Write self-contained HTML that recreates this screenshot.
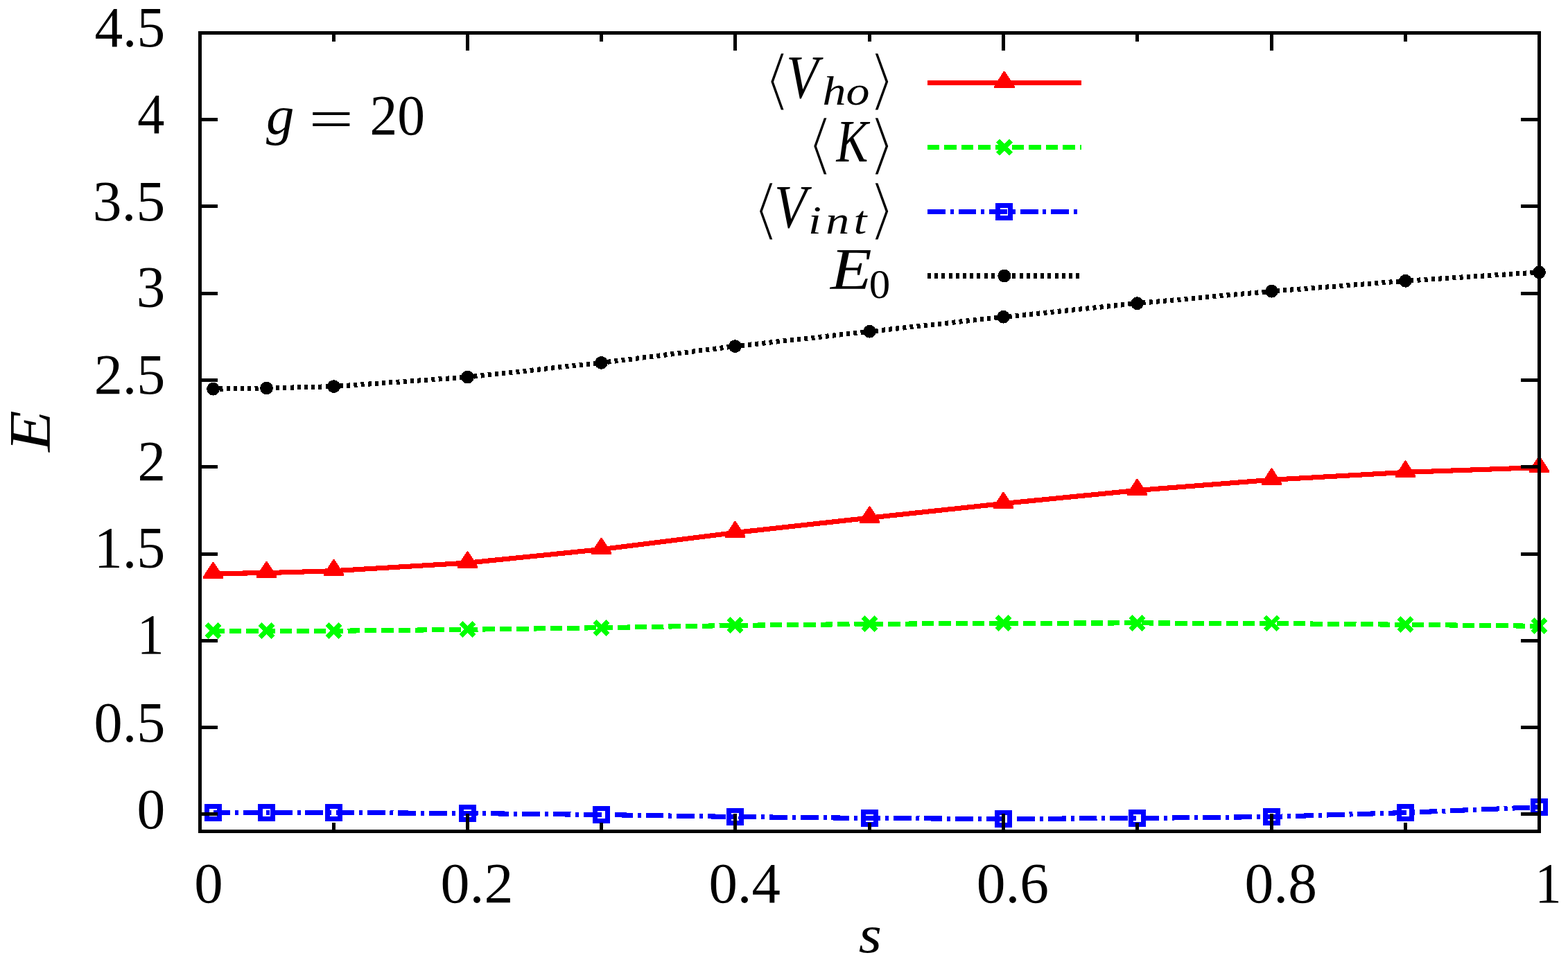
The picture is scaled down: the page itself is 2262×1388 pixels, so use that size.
<!DOCTYPE html>
<html lang="en"><head><meta charset="utf-8"><title>E versus s, g = 20</title>
<style>
html,body{margin:0;padding:0;background:#fff;}
body{width:2262px;height:1388px;overflow:hidden;}
svg{display:block;}
text{font-family:"Liberation Serif","DejaVu Serif",serif;fill:#000;}
.it{font-style:italic;}
.br{font-family:"Liberation Serif","DejaVu Sans","DejaVu Serif",serif;stroke:#fff;stroke-width:4px;stroke-linejoin:miter;}
</style></head><body>
<svg width="2262" height="1388" viewBox="0 0 2262 1388">
<rect width="2262" height="1388" fill="#fff"/>
<g id="series" shape-rendering="crispEdges" fill="none" stroke-linejoin="round">
<polyline points="307.5,827.6 384.5,826.6 481.5,823.7 674.5,812.1 867.5,792.6 1060.5,768.5 1254.5,747.1 1447.5,726.5 1640.5,707.5 1834.5,692.3 2027.5,681.4 2220.5,674.5" stroke="#f00" stroke-width="7.1"/>
<polyline points="307.5,910.3 384.5,910.3 481.5,910.3 674.5,908.3 867.5,905.7 1060.5,902.4 1254.5,900.4 1447.5,899.2 1640.5,898.9 1834.5,899.5 2027.5,901.3 2220.5,903.3" stroke="#0f0" stroke-width="7.1" stroke-dasharray="17.4 6.967" stroke-dashoffset="0.9"/>
<polyline points="307.5,1172.5 384.5,1172.5 481.5,1172.5 674.5,1173.5 867.5,1175.5 1060.5,1178.5 1254.5,1180.5 1447.5,1181.5 1640.5,1180.5 1834.5,1178.5 2027.5,1172.5 2220.5,1164.5" stroke="#00f" stroke-width="7.1" stroke-dasharray="25.85 6.9 5 6.9" stroke-dashoffset="1"/>
<polyline points="307.5,561.2 384.5,560.0 481.5,557.6 674.5,544.1 867.5,523.4 1060.5,499.6 1254.5,478.3 1447.5,457.3 1640.5,437.7 1834.5,420.2 2027.5,405.3 2220.5,392.8" stroke="#000" stroke-width="7.1" stroke-dasharray="5 5.21" stroke-dashoffset="1.2"/>
</g>
<g id="markers" shape-rendering="crispEdges">
<polygon points="292.7,835.0 292.7,832.4 306.8,810.6 308.2,810.6 322.3,832.4 322.3,835.0" fill="#f00"/>
<polygon points="369.7,834.0 369.7,831.4 383.8,809.6 385.2,809.6 399.3,831.4 399.3,834.0" fill="#f00"/>
<polygon points="466.7,831.1 466.7,828.5 480.8,806.7 482.2,806.7 496.3,828.5 496.3,831.1" fill="#f00"/>
<polygon points="659.7,819.5 659.7,816.9 673.8,795.1 675.2,795.1 689.3,816.9 689.3,819.5" fill="#f00"/>
<polygon points="852.7,800.0 852.7,797.4 866.8,775.6 868.2,775.6 882.3,797.4 882.3,800.0" fill="#f00"/>
<polygon points="1045.7,775.9 1045.7,773.3 1059.8,751.5 1061.2,751.5 1075.3,773.3 1075.3,775.9" fill="#f00"/>
<polygon points="1239.7,754.5 1239.7,751.9 1253.8,730.1 1255.2,730.1 1269.3,751.9 1269.3,754.5" fill="#f00"/>
<polygon points="1432.7,733.9 1432.7,731.3 1446.8,709.5 1448.2,709.5 1462.3,731.3 1462.3,733.9" fill="#f00"/>
<polygon points="1625.7,714.9 1625.7,712.3 1639.8,690.5 1641.2,690.5 1655.3,712.3 1655.3,714.9" fill="#f00"/>
<polygon points="1819.7,699.7 1819.7,697.1 1833.8,675.3 1835.2,675.3 1849.3,697.1 1849.3,699.7" fill="#f00"/>
<polygon points="2012.7,688.8 2012.7,686.2 2026.8,664.4 2028.2,664.4 2042.3,686.2 2042.3,688.8" fill="#f00"/>
<polygon points="2205.7,681.9 2205.7,679.3 2219.8,657.5 2221.2,657.5 2235.3,679.3 2235.3,681.9" fill="#f00"/>
<path d="M298.0,900.8L317.0,919.8M298.0,919.8L317.0,900.8" stroke="#0f0" stroke-width="7" fill="none"/>
<path d="M375.0,900.8L394.0,919.8M375.0,919.8L394.0,900.8" stroke="#0f0" stroke-width="7" fill="none"/>
<path d="M472.0,900.8L491.0,919.8M472.0,919.8L491.0,900.8" stroke="#0f0" stroke-width="7" fill="none"/>
<path d="M665.0,898.8L684.0,917.8M665.0,917.8L684.0,898.8" stroke="#0f0" stroke-width="7" fill="none"/>
<path d="M858.0,896.2L877.0,915.2M858.0,915.2L877.0,896.2" stroke="#0f0" stroke-width="7" fill="none"/>
<path d="M1051.0,892.9L1070.0,911.9M1051.0,911.9L1070.0,892.9" stroke="#0f0" stroke-width="7" fill="none"/>
<path d="M1245.0,890.9L1264.0,909.9M1245.0,909.9L1264.0,890.9" stroke="#0f0" stroke-width="7" fill="none"/>
<path d="M1438.0,889.7L1457.0,908.7M1438.0,908.7L1457.0,889.7" stroke="#0f0" stroke-width="7" fill="none"/>
<path d="M1631.0,889.4L1650.0,908.4M1631.0,908.4L1650.0,889.4" stroke="#0f0" stroke-width="7" fill="none"/>
<path d="M1825.0,890.0L1844.0,909.0M1825.0,909.0L1844.0,890.0" stroke="#0f0" stroke-width="7" fill="none"/>
<path d="M2018.0,891.8L2037.0,910.8M2018.0,910.8L2037.0,891.8" stroke="#0f0" stroke-width="7" fill="none"/>
<path d="M2211.0,893.8L2230.0,912.8M2211.0,912.8L2230.0,893.8" stroke="#0f0" stroke-width="7" fill="none"/>
<rect x="298.5" y="1163.5" width="18" height="18" fill="none" stroke="#00f" stroke-width="7"/>
<rect x="375.5" y="1163.5" width="18" height="18" fill="none" stroke="#00f" stroke-width="7"/>
<rect x="472.5" y="1163.5" width="18" height="18" fill="none" stroke="#00f" stroke-width="7"/>
<rect x="665.5" y="1164.5" width="18" height="18" fill="none" stroke="#00f" stroke-width="7"/>
<rect x="858.5" y="1166.5" width="18" height="18" fill="none" stroke="#00f" stroke-width="7"/>
<rect x="1051.5" y="1169.5" width="18" height="18" fill="none" stroke="#00f" stroke-width="7"/>
<rect x="1245.5" y="1171.5" width="18" height="18" fill="none" stroke="#00f" stroke-width="7"/>
<rect x="1438.5" y="1172.5" width="18" height="18" fill="none" stroke="#00f" stroke-width="7"/>
<rect x="1631.5" y="1171.5" width="18" height="18" fill="none" stroke="#00f" stroke-width="7"/>
<rect x="1825.5" y="1169.5" width="18" height="18" fill="none" stroke="#00f" stroke-width="7"/>
<rect x="2018.5" y="1163.5" width="18" height="18" fill="none" stroke="#00f" stroke-width="7"/>
<rect x="2211.5" y="1155.5" width="18" height="18" fill="none" stroke="#00f" stroke-width="7"/>
<circle cx="307.5" cy="561.2" r="9.4" fill="#000"/>
<circle cx="384.5" cy="560.0" r="9.4" fill="#000"/>
<circle cx="481.5" cy="557.6" r="9.4" fill="#000"/>
<circle cx="674.5" cy="544.1" r="9.4" fill="#000"/>
<circle cx="867.5" cy="523.4" r="9.4" fill="#000"/>
<circle cx="1060.5" cy="499.6" r="9.4" fill="#000"/>
<circle cx="1254.5" cy="478.3" r="9.4" fill="#000"/>
<circle cx="1447.5" cy="457.3" r="9.4" fill="#000"/>
<circle cx="1640.5" cy="437.7" r="9.4" fill="#000"/>
<circle cx="1834.5" cy="420.2" r="9.4" fill="#000"/>
<circle cx="2027.5" cy="405.3" r="9.4" fill="#000"/>
<circle cx="2220.5" cy="392.8" r="9.4" fill="#000"/>
</g>
<g id="legend-samples" shape-rendering="crispEdges" fill="none">
<line x1="1337.9" y1="119.5" x2="1560.1" y2="119.5" stroke="#f00" stroke-width="7.1"/>
<line x1="1337.9" y1="212.4" x2="1560.1" y2="212.4" stroke="#0f0" stroke-width="7.1" stroke-dasharray="17.4 7"/>
<line x1="1337.9" y1="305.2" x2="1560.1" y2="305.2" stroke="#00f" stroke-width="7.1" stroke-dasharray="25.8 6.9 5 6.9"/>
<line x1="1337.9" y1="398.0" x2="1560.1" y2="398.0" stroke="#000" stroke-width="7.1" stroke-dasharray="5 5.2"/>
<polygon points="1434.0,126.9 1434.0,124.3 1448.1,102.5 1449.5,102.5 1463.6,124.3 1463.6,126.9" fill="#f00"/>
<path d="M1439.3,202.9L1458.3,221.9M1439.3,221.9L1458.3,202.9" stroke="#0f0" stroke-width="7" fill="none"/>
<rect x="1439.8" y="296.2" width="18" height="18" fill="none" stroke="#00f" stroke-width="7"/>
<circle cx="1448.8" cy="398.0" r="9.4" fill="#000"/>
</g>
<g id="axes" shape-rendering="crispEdges" stroke="#000" stroke-width="4.9" fill="none" stroke-linecap="butt">
<path d="M288.5,1174.5h25.7M2220.5,1174.5h-26.5M288.5,1049.5h25.7M2220.5,1049.5h-26.5M288.5,924.5h25.7M2220.5,924.5h-26.5M288.5,799.5h25.7M2220.5,799.5h-26.5M288.5,673.5h25.7M2220.5,673.5h-26.5M288.5,548.5h25.7M2220.5,548.5h-26.5M288.5,423.5h25.7M2220.5,423.5h-26.5M288.5,297.5h25.7M2220.5,297.5h-26.5M288.5,172.5h25.7M2220.5,172.5h-26.5M481.5,1199.5v-12.5M481.5,47.5v12.5M674.5,1199.5v-25.5M674.5,47.5v25.5M867.5,1199.5v-12.5M867.5,47.5v12.5M1060.5,1199.5v-25.5M1060.5,47.5v25.5M1254.5,1199.5v-12.5M1254.5,47.5v12.5M1447.5,1199.5v-25.5M1447.5,47.5v25.5M1640.5,1199.5v-12.5M1640.5,47.5v12.5M1834.5,1199.5v-25.5M1834.5,47.5v25.5M2027.5,1199.5v-12.5M2027.5,47.5v12.5"/>
<rect x="288.5" y="47.5" width="1932.0" height="1152.0"/>
</g>
<g id="ytics">
<text transform="translate(136.411,66.687) scale(0.993,1.013)" font-size="82">4.5</text>
<text transform="translate(198.367,191.9) scale(0.955,1)" font-size="82">4</text>
<text transform="translate(133.825,317.682) scale(1.019,1.018)" font-size="82">3.5</text>
<text transform="translate(196.641,443.386) scale(1.015,1.028)" font-size="82">3</text>
<text transform="translate(135.693,567.587) scale(1.002,1.013)" font-size="82">2.5</text>
<text transform="translate(198.442,693) scale(0.988,0.996)" font-size="82">2</text>
<text transform="translate(135.685,819.065) scale(1.002,1.035)" font-size="82">1.5</text>
<text transform="translate(197.862,943.3) scale(0.948,1.007)" font-size="82">1</text>
<text transform="translate(135.488,1069.889) scale(1.004,1.011)" font-size="82">0.5</text>
<text transform="translate(197.617,1195.192) scale(0.994,1.016)" font-size="82">0</text>
</g>
<g id="xtics">
<text transform="translate(280.266,1302.392) scale(1.011,1.016)" font-size="82">0</text>
<text transform="translate(635.527,1301.893) scale(1.024,1.007)" font-size="82">0.2</text>
<text transform="translate(1022.469,1301.893) scale(1.01,1.007)" font-size="82">0.4</text>
<text transform="translate(1408.644,1301.893) scale(1.019,1.007)" font-size="82">0.6</text>
<text transform="translate(1795.544,1301.893) scale(1.019,1.007)" font-size="82">0.8</text>
<text transform="translate(2214.134,1301.7) scale(0.938,1.004)" font-size="82">1</text>
</g>
<g id="labels">
<text transform="translate(1238.686,1373.599) scale(1.014,0.901)" font-size="84" class="it">s</text>
<text transform="translate(72,651.839) rotate(-90) scale(1.161,0.998)" font-size="84" class="it">E</text>
</g>
<g id="note">
<text transform="translate(383.9,193.409) scale(0.962,0.922)" font-size="84" class="it">g</text>
<text transform="translate(445.552,198.467) scale(1.362,0.924)" font-size="84">=</text>
<text transform="translate(533.407,193.695) scale(0.97,1.009)" font-size="82">20</text>
</g>
<g id="leg1">
<text transform="translate(1099.433,147.672) scale(1.333,1.148)" font-size="84" class="br">⟨</text>
<text transform="translate(1134.35,141.041) scale(0.9,1.059)" font-size="84" class="it">V</text>
<text transform="translate(1186.495,151.001) scale(1.153,0.998)" font-size="59" class="it">ho</text>
<text transform="translate(1249.993,147.672) scale(1.348,1.148)" font-size="84" class="br">⟩</text>
</g>
<g id="leg2">
<text transform="translate(1161.504,241.472) scale(1.326,1.148)" font-size="84" class="br">⟨</text>
<text transform="translate(1206.618,233) scale(0.818,1.04)" font-size="84" class="it">K</text>
<text transform="translate(1249.993,241.472) scale(1.348,1.148)" font-size="84" class="br">⟩</text>
</g>
<g id="leg3">
<text transform="translate(1083.333,334.572) scale(1.333,1.148)" font-size="84" class="br">⟨</text>
<text transform="translate(1117.001,327.941) scale(0.911,1.059)" font-size="84" class="it">V</text>
<text transform="translate(1165.963,337.013) scale(1.154,0.975)" font-size="59" letter-spacing="5.5" class="it">int</text>
<text transform="translate(1249.993,334.572) scale(1.348,1.148)" font-size="84" class="br">⟩</text>
</g>
<g id="leg4">
<text transform="translate(1198.063,416.9) scale(1.163,1.002)" font-size="84" class="it">E</text>
<text transform="translate(1253.696,429.597) scale(1.052,1.005)" font-size="58">0</text>
</g>
</svg></body></html>
